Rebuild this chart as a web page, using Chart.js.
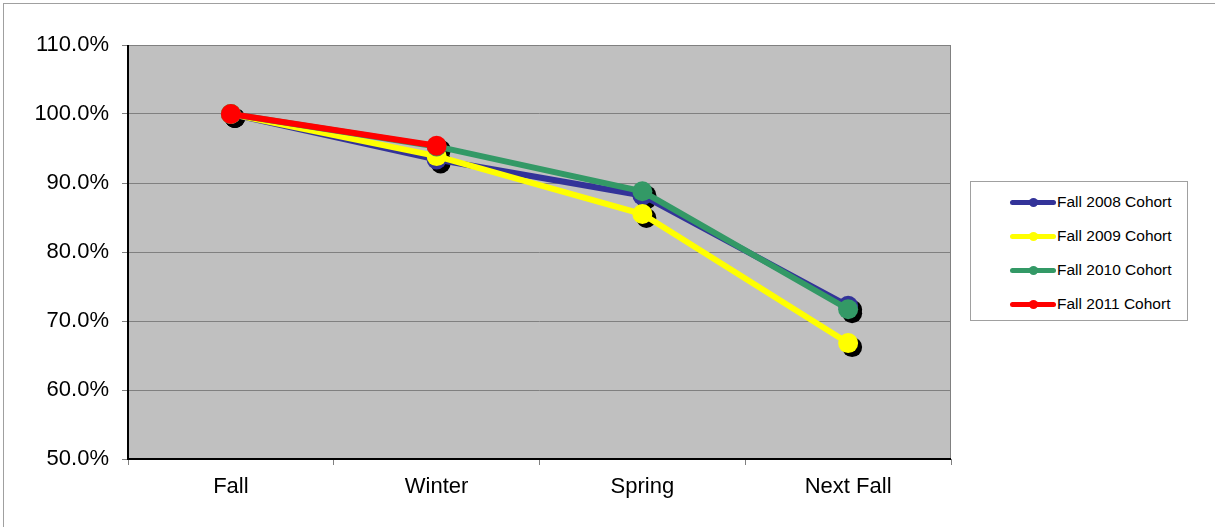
<!DOCTYPE html>
<html><head><meta charset="utf-8">
<script src="https://cdn.jsdelivr.net/npm/chart.js@4/dist/chart.umd.min.js"></script>
<style>
html,body{margin:0;padding:0;background:#fff;}
#wrap{position:relative;width:1215px;height:527px;}
#frame{position:absolute;left:3px;top:3px;width:1215px;height:527px;border-left:1px solid #a0a0a0;border-top:1px solid #a0a0a0;box-sizing:border-box;pointer-events:none;}
#legend{position:absolute;left:970px;top:181px;width:218px;height:140px;border:1px solid #a0a0a0;box-sizing:border-box;background:#fff;font-family:"Liberation Sans",Arial,sans-serif;font-size:15.5px;color:#000;}
.item{position:absolute;left:0;height:20px;}
.ln{position:absolute;left:39px;top:8px;width:46px;height:5px;border-radius:3px;}
.dt{position:absolute;left:58px;top:6px;width:9px;height:9px;border-radius:50%;}
.tx{position:absolute;left:86px;top:1px;white-space:nowrap;}
</style></head>
<body><div id="wrap"><canvas id="c" width="1215" height="527"></canvas><div id="frame"></div><div id="legend"></div></div>
<script>
const categories = ["Fall", "Winter", "Spring", "Next Fall"];
const seriesNames = ["Fall 2008 Cohort", "Fall 2009 Cohort", "Fall 2010 Cohort", "Fall 2011 Cohort"];
const fall2008 = [100.0, 93.4, 88.2, 72.2];
const fall2009 = [100.0, 93.9, 85.5, 66.8];
const fall2010 = [100.0, 95.3, 88.8, 71.7];
const fall2011 = [100.0, 95.4, null, null];
const yTicks = [50, 60, 70, 80, 90, 100, 110];
const colors = ["#333399", "#FFFF00", "#339966", "#FF0000"];
const seriesData = [fall2008, fall2009, fall2010, fall2011];

const FONT = '"Liberation Sans", Arial, sans-serif';

const bgPlugin = {
  id: 'bg',
  beforeDraw(chart) {
    const {ctx, chartArea: a} = chart;
    ctx.save();
    ctx.fillStyle = '#C0C0C0';
    ctx.fillRect(a.left, a.top, a.right - a.left, a.bottom - a.top);
    ctx.restore();
  },
  beforeDatasetsDraw(chart) {
    const ctx = chart.ctx;
    ctx.save();
    ctx.fillStyle = '#000';
    chart.data.datasets.forEach((ds, i) => {
      const meta = chart.getDatasetMeta(i);
      meta.data.forEach((p, j) => {
        if (ds.data[j] == null) return;
        ctx.beginPath();
        ctx.arc(p.x + 4, p.y + 4, 10, 0, Math.PI * 2);
        ctx.fill();
      });
    });
    ctx.restore();
  },
  afterDraw(chart) {
    const {ctx, chartArea: a} = chart;
    ctx.save();
    ctx.strokeStyle = '#808080';
    ctx.lineWidth = 1;
    ctx.beginPath();
    ctx.moveTo(a.left, a.top + 0.5); ctx.lineTo(a.right - 0.5, a.top + 0.5); ctx.lineTo(a.right - 0.5, a.bottom);
    ctx.stroke();
    ctx.strokeStyle = '#000';
    ctx.lineWidth = 2;
    ctx.beginPath();
    ctx.moveTo(a.left, a.top); ctx.lineTo(a.left, a.bottom); ctx.lineTo(a.right, a.bottom);
    ctx.stroke();
    ctx.restore();
  }
};

new Chart(document.getElementById('c'), {
  type: 'line',
  data: {
    labels: categories,
    datasets: seriesData.map((d, i) => ({
      label: seriesNames[i],
      data: d,
      borderColor: colors[i],
      backgroundColor: colors[i],
      pointBackgroundColor: colors[i],
      pointBorderColor: colors[i],
      borderWidth: 6,
      pointRadius: 10,
      pointBorderWidth: 0,
      tension: 0,
      spanGaps: false,
      order: 4 - i
    }))
  },
  options: {
    responsive: false,
    animation: false,
    events: [],
    layout: { padding: { top: 45, right: 264, left: 0, bottom: 0 } },
    plugins: { legend: { display: false }, tooltip: { enabled: false } },
    scales: {
      x: {
        offset: true,
        afterFit(s) { s.height = 68; },
        grid: { offset: true, drawOnChartArea: false, color: '#808080', tickLength: 6 },
        border: { display: false },
        ticks: { color: '#000', font: { family: FONT, size: 22 }, padding: 9 }
      },
      y: {
        min: 50, max: 110,
        afterFit(s) { s.width = 128; },
        afterBuildTicks(s) { s.ticks = yTicks.map(v => ({ value: v })); },
        grid: { color: '#808080', tickLength: 6, lineWidth: 1 },
        border: { display: false },
        ticks: { color: '#000', font: { family: FONT, size: 22 }, padding: 13,
          callback: v => v.toFixed(1) + '%' }
      }
    }
  },
  plugins: [bgPlugin]
});

const leg = document.getElementById('legend');
seriesNames.forEach((n, i) => {
  const it = document.createElement('div');
  it.className = 'item';
  it.style.top = (10 + i * 34) + 'px';
  it.style.width = '216px';
  it.innerHTML = '<div class="ln" style="background:' + colors[i] + '"></div><div class="dt" style="background:' + colors[i] + '"></div><div class="tx">' + n + '</div>';
  leg.appendChild(it);
});
</script></body></html>
